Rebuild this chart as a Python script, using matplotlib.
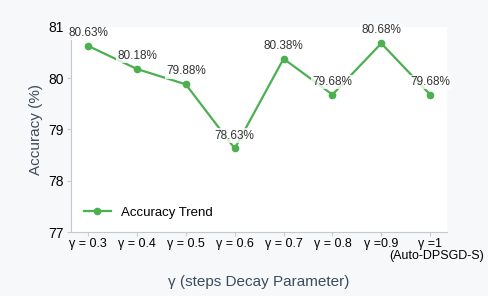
import matplotlib.pyplot as plt

plt.rcParams['font.family'] = ['Liberation Sans', 'DejaVu Sans']

# gamma settings and accuracy values
gamma_labels = ['γ = 0.3', 'γ = 0.4', 'γ = 0.5', 'γ = 0.6', 'γ = 0.7',
                'γ = 0.8', 'γ =0.9', 'γ =1']
last_note = '(Auto-DPSGD-S)'
accuracy = [80.63, 80.18, 79.88, 78.63, 80.38, 79.68, 80.68, 79.68]
y_ticks = [77, 78, 79, 80, 81]

fig = plt.figure(figsize=(4.88, 2.96), dpi=100, facecolor='#f7f8fa')
ax = fig.add_axes([0.1455, 0.216, 0.771, 0.693])
ax.set_facecolor('white')

x = list(range(len(accuracy)))
ax.plot(x, accuracy, color='#4caf50', lw=1.6, marker='o', ms=4.5,
        label='Accuracy Trend')

for xi, yi in zip(x, accuracy):
    ax.annotate(f'{yi:.2f}%', (xi, yi), xytext=(0, 5), textcoords='offset points',
                ha='center', va='bottom', fontsize=8.5, color='#333333',
                bbox=dict(boxstyle='square,pad=0.1', fc='white', ec='none', alpha=0.8))

ax.set_xlim(-0.35, 7.35)
ax.set_ylim(77, 81)
ax.set_yticks(y_ticks)
ax.set_xticks(x)
ax.set_xticklabels(gamma_labels, fontsize=9)
ax.tick_params(axis='y', labelsize=10, length=3, color='#cccccc', pad=2)
ax.tick_params(axis='x', length=3, color='#cccccc', pad=1)

# second line under the last tick label
ax.annotate(last_note, (x[-1], 77), xytext=(39, -13), textcoords='offset points',
            ha='right', va='top', fontsize=9, annotation_clip=False)

for s in ['top', 'right']:
    ax.spines[s].set_visible(False)
for s in ['left', 'bottom']:
    ax.spines[s].set_color('#c8c8c8')

ax.set_ylabel('Accuracy (%)', fontsize=11, color='#3d4b5e')
ax.set_xlabel('γ (steps Decay Parameter)', fontsize=11, color='#3d4b5e', labelpad=18)

ax.legend(loc='lower left', frameon=False, fontsize=9.5, handlelength=2.0,
          borderaxespad=0.6)

fig.savefig('out.png', dpi=100, facecolor=fig.get_facecolor())
